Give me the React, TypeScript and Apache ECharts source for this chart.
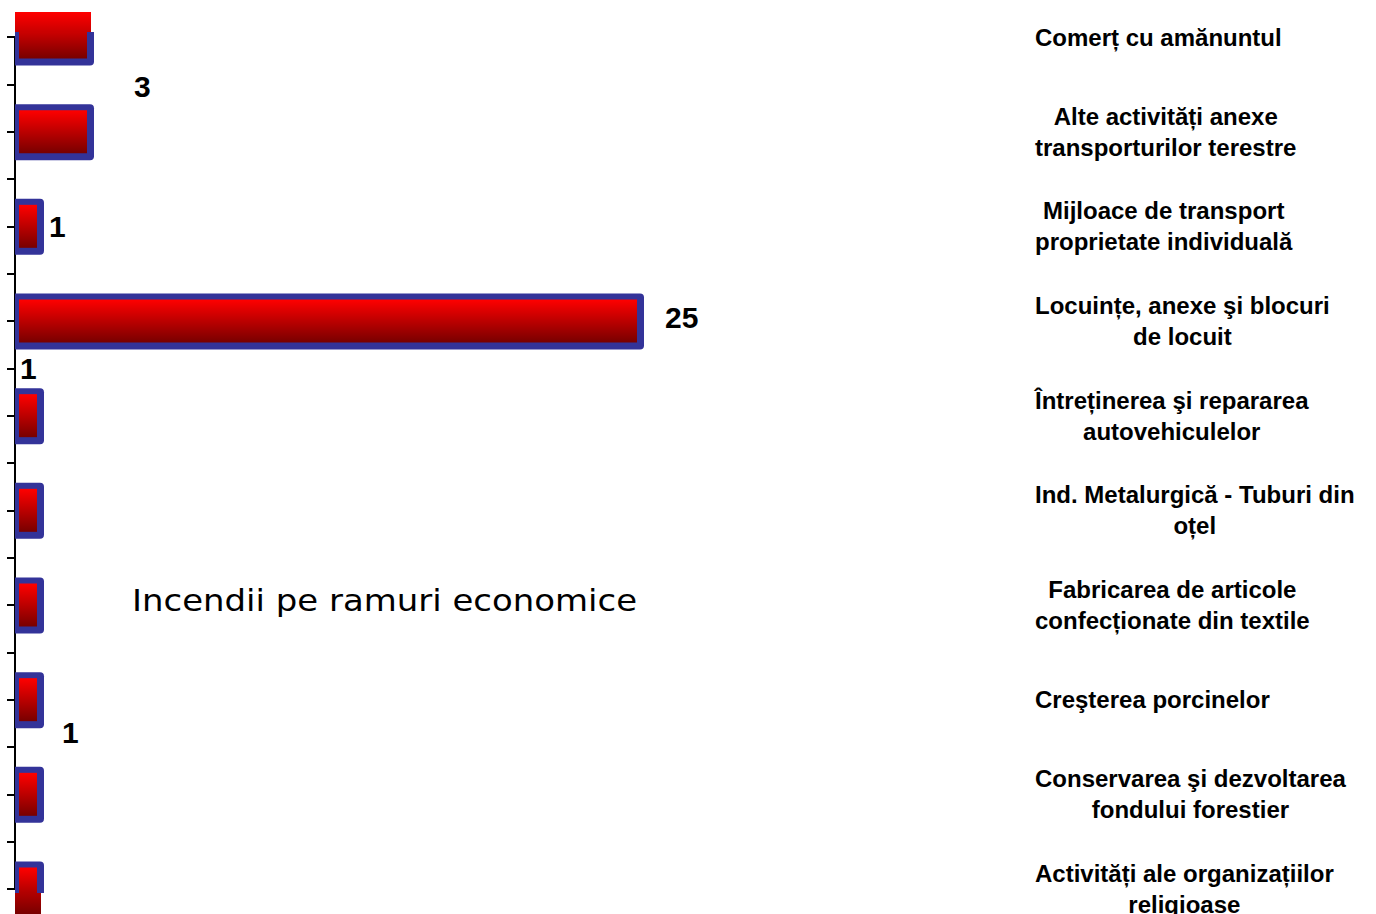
import React, { useEffect, useRef } from 'react';
import * as echarts from 'echarts';

const categories = [
  'Comerț cu amănuntul',
  'Alte activități anexe\ntransporturilor terestre',
  'Mijloace de transport\nproprietate individuală',
  'Locuințe, anexe şi blocuri\nde locuit',
  'Întreținerea şi repararea\nautovehiculelor',
  'Ind. Metalurgică - Tuburi din\noțel',
  'Fabricarea de articole\nconfecționate din textile',
  'Creşterea porcinelor',
  'Conservarea şi dezvoltarea\nfondului forestier',
  'Activități ale organizațiilor\nreligioase',
];
const values = [3, 3, 1, 25, 1, 1, 1, 1, 1, 1];
const labelledBars = [0, 2, 3, 4, 7];
const labelOffsets: number[][] = [[44, 49], [9, 0], [25, -4], [-20, -47], [22, 33]];
const chartTitle = 'Incendii pe ramuri economice';

const FONT = '"Liberation Sans", Arial, Helvetica, sans-serif';

export default function App() {
  const ref = useRef<HTMLDivElement>(null);
  useEffect(() => {
    if (!ref.current) return;
    const chart = echarts.init(ref.current, undefined, { renderer: 'svg' });
    const grad = (a: number, b: number) =>
      new echarts.graphic.LinearGradient(0, a, 0, b, [
        { offset: 0, color: '#ff0000' },
        { offset: 1, color: '#780000' },
      ], true);

    const topA = 37;
    const bottomA = 25;
    const half = 47.333;

    const option: any = {
      animation: false,
      backgroundColor: '#ffffff',
      grid: [
        { left: 15, right: 361, top: topA, bottom: bottomA, containLabel: false, outerBoundsMode: 'none' },
        { left: 15, right: 361, top: topA - half, bottom: bottomA - half, containLabel: false, outerBoundsMode: 'none' },
      ],
      xAxis: [
        { gridIndex: 0, type: 'value', min: 0, max: 40, show: false },
        { gridIndex: 1, type: 'value', min: 0, max: 40, show: false },
      ],
      yAxis: [
        {
          gridIndex: 0, type: 'category', data: categories, inverse: true, boundaryGap: false,
          axisLine: { show: true, lineStyle: { color: '#000', width: 2 } },
          axisTick: { show: true, length: 8, interval: 0, lineStyle: { color: '#000', width: 2 } },
          axisLabel: { show: false },
          splitLine: { show: false },
        },
        {
          gridIndex: 0, type: 'category', data: categories, inverse: true, boundaryGap: false,
          position: 'right',
          axisLine: { show: false }, axisTick: { show: false }, splitLine: { show: false },
          axisLabel: {
            show: true, interval: 0, margin: 20, align: 'left',
            showMinLabel: true, showMaxLabel: true,
            fontSize: 24, fontWeight: 'bold', fontFamily: FONT, color: '#000', lineHeight: 31,
            formatter: (val: string) => val.split('\n').map((l) => '{c|' + l + '}').join('\n'),
            rich: {
              c: { align: 'center', fontSize: 24, fontWeight: 'bold', fontFamily: FONT, color: '#000', lineHeight: 31 },
            },
          },
        },
        {
          gridIndex: 1, type: 'category', data: categories, inverse: true, boundaryGap: true,
          axisLine: { show: false },
          axisTick: { show: true, length: 8, interval: 0, lineStyle: { color: '#000', width: 2 } },
          axisLabel: { show: false },
          splitLine: { show: false },
        },
      ],
      series: [
        {
          type: 'custom',
          xAxisIndex: 0,
          yAxisIndex: 0,
          clip: false,
          silent: true,
          encode: { x: 0, y: 1 },
          data: values.map((v, i) => [v, i]),
          renderItem: (params: any, api: any) => {
            const cat = api.value(1);
            const v = api.value(0);
            const start = api.coord([0, cat]);
            const end = api.coord([v, cat]);
            const cs = params.coordSys;
            const x0 = start[0];
            const x1 = end[0];
            const cy = start[1];
            const lo = cs.y - 5;
            const hi = cs.y + cs.height + 4;
            const oTop = cy - 25, oBot = cy + 25;
            const fTop = cy - 27.5, fBot = cy + 28.5;
            const iTop = cy - 21.5, iBot = cy + 21.5;
            const fa = Math.max(fTop, lo), fb = Math.min(fBot, hi);
            const ia = Math.max(iTop, lo), ib = Math.min(iBot, hi);
            const rTop = fa > fTop ? 0 : 4;
            const rBot = fb < fBot ? 0 : 4;
            return {
              type: 'group',
              children: [
                {
                  type: 'rect',
                  shape: { x: x0, y: oTop, width: x1 + 1 - x0, height: oBot - oTop },
                  style: { fill: grad(oTop, oBot) },
                },
                {
                  type: 'rect',
                  shape: { x: x0, y: fa, width: x1 + 4 - x0, height: fb - fa, r: [0, rTop, rBot, 0] },
                  style: { fill: '#333399' },
                },
                {
                  type: 'rect',
                  shape: { x: x0 + 4, y: ia, width: x1 - 3 - (x0 + 4), height: ib - ia },
                  style: { fill: grad(iTop, iBot) },
                },
              ],
            };
          },
        },
        {
          type: 'bar',
          xAxisIndex: 0,
          yAxisIndex: 0,
          barWidth: 1,
          silent: true,
          z: 5,
          itemStyle: { color: 'rgba(0,0,0,0)' },
          label: {
            show: false, position: 'right', distance: 0,
            fontSize: 30, fontWeight: 'bold', color: '#000', fontFamily: FONT,
          },
          data: values.map((v, i) => {
            const k = labelledBars.indexOf(i);
            return k < 0 ? { value: v } : { value: v, label: { show: true, offset: labelOffsets[k] } };
          }),
        },
      ],
      graphic: [
        {
          type: 'text',
          x: 132,
          y: 601,
          scaleX: 1.095,
          silent: true,
          style: {
            text: chartTitle,
            fontSize: 31,
            fontFamily: '"DejaVu Sans", sans-serif',
            fill: '#000',
            align: 'left',
            verticalAlign: 'middle',
          },
        },
      ],
    };
    chart.setOption(option);
    return () => chart.dispose();
  }, []);
  return (
    <div
      ref={ref}
      style={{ position: 'fixed', left: 0, top: 0, width: 1376, height: 914, background: '#fff' }}
    />
  );
}
